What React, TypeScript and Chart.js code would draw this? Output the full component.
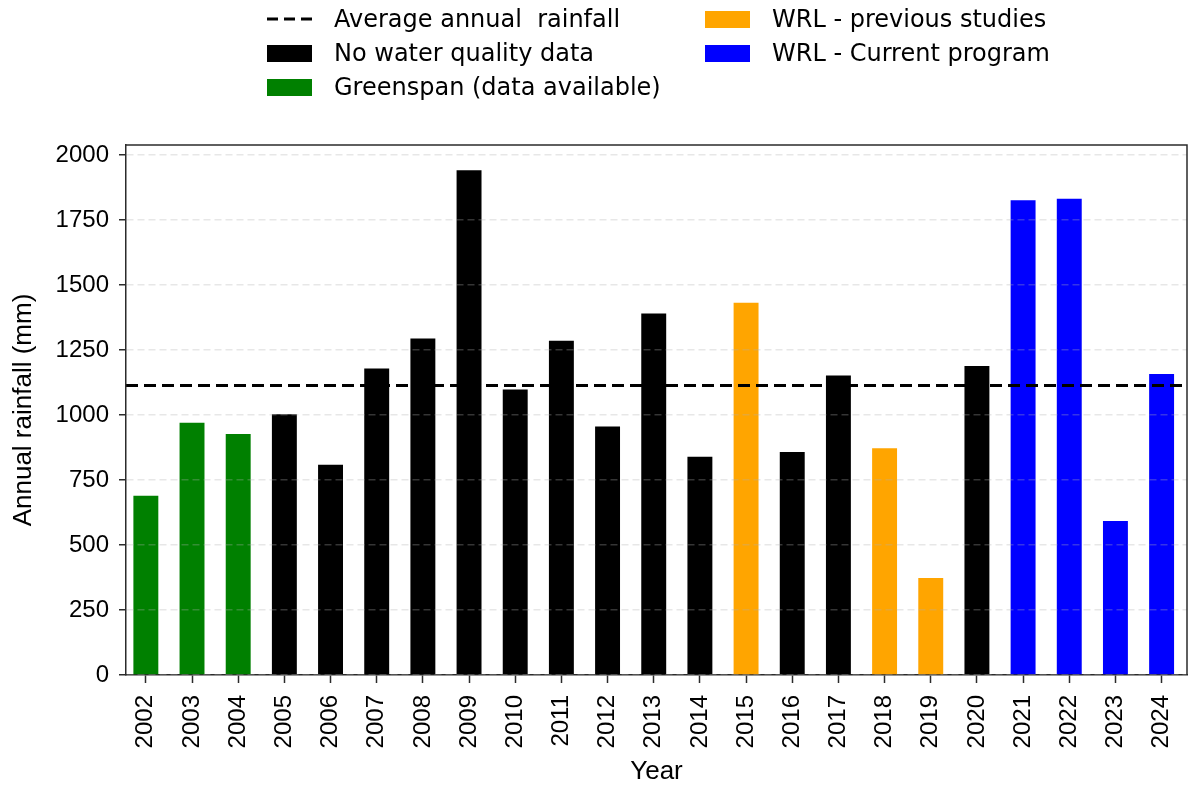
import React, { useEffect, useRef } from "react";
import { Chart, registerables } from "chart.js";

Chart.register(...registerables);

const years = ["2002","2003","2004","2005","2006","2007","2008","2009","2010","2011","2012","2013","2014","2015","2016","2017","2018","2019","2020","2021","2022","2023","2024"];
const rainfall = [690, 970, 927, 1003, 809, 1179, 1295, 1942, 1098, 1286, 956, 1391, 840, 1432, 858, 1152, 872, 373, 1189, 1826, 1832, 592, 1158];
const groups = ["green","green","green","black","black","black","black","black","black","black","black","black","black","orange","black","black","orange","orange","black","blue","blue","blue","blue"];
const averageRainfall = 1114;
const yTicks = [0, 250, 500, 750, 1000, 1250, 1500, 1750, 2000];

const groupColors: Record<string, string> = {
  green: "#008000",
  black: "#000000",
  orange: "#FFA500",
  blue: "#0000FF",
};

const legendItems = [
  { label: "Average annual  rainfall", kind: "line", color: "#000", col: 0, row: 0 },
  { label: "No water quality data", kind: "patch", color: groupColors.black, col: 0, row: 1 },
  { label: "Greenspan (data available)", kind: "patch", color: groupColors.green, col: 0, row: 2 },
  { label: "WRL - previous studies", kind: "patch", color: groupColors.orange, col: 1, row: 0 },
  { label: "WRL - Current program", kind: "patch", color: groupColors.blue, col: 1, row: 1 },
];

const framePlugin = {
  id: "frameAndAverage",
  afterDatasetsDraw(chart: any) {
    const { ctx, chartArea, scales } = chart;
    const y = scales.y.getPixelForValue(averageRainfall);
    ctx.save();
    ctx.strokeStyle = "#000";
    ctx.lineWidth = 3;
    ctx.setLineDash([12, 6]);
    ctx.beginPath();
    ctx.moveTo(chartArea.left, y);
    ctx.lineTo(chartArea.right, y);
    ctx.stroke();
    ctx.restore();
  },
  afterDraw(chart: any) {
    const { ctx, chartArea } = chart;
    ctx.save();
    ctx.strokeStyle = "#2b2b2b";
    ctx.lineWidth = 1.5;
    ctx.beginPath();
    ctx.moveTo(chartArea.left, chartArea.top);
    ctx.lineTo(chartArea.right, chartArea.top);
    ctx.lineTo(chartArea.right, chartArea.bottom);
    ctx.stroke();
    ctx.restore();
  },
};

export default function App() {
  const canvasRef = useRef<HTMLCanvasElement | null>(null);

  useEffect(() => {
    if (!canvasRef.current) return;
    const chart = new Chart(canvasRef.current, {
      type: "bar",
      data: {
        datasets: [
          {
            label: "Annual rainfall",
            data: rainfall.map((v, i) => ({ x: i, y: v })),
            backgroundColor: groups.map((g) => groupColors[g]),
            borderWidth: 0,
            barPercentage: 0.54,
            categoryPercentage: 1,
          },
        ],
      },
      options: {
        responsive: false,
        animation: false,
        devicePixelRatio: 1,
        layout: { padding: { top: 145, right: 2, left: 0, bottom: 0 } },
        plugins: { legend: { display: false }, tooltip: { enabled: false } },
        scales: {
          x: {
            type: "linear",
            offset: false,
            min: -0.43,
            max: 22.55,
            afterFit: (scale: any) => {
              scale.height = 112;
              scale.paddingLeft = 0;
              scale.paddingRight = 0;
            },
            afterBuildTicks: (scale: any) => { scale.ticks = years.map((_, i) => ({ value: i })); },
            ticks: {
              callback: (v: any) => years[Math.round(Number(v))] ?? "",
              minRotation: 90,
              maxRotation: 90,
              autoSkip: false,
              color: "#000",
              padding: 12,
              font: { family: "'Liberation Sans', Arial, sans-serif", size: 24 },
            },
            grid: {
              offset: false,
              drawOnChartArea: false,
              drawTicks: true,
              tickLength: 8,
              tickColor: "#2b2b2b",
              tickWidth: 1.5,
            },
            border: { display: true, color: "#2b2b2b", width: 1.5 },
            title: {
              display: true,
              text: "Year",
              color: "#000",
              padding: { top: 0, bottom: 0 },
              font: { family: "'Liberation Sans', Arial, sans-serif", size: 26 },
            },
          },
          y: {
            min: 0,
            max: 2039,
            afterFit: (scale: any) => {
              scale.width = 126;
              scale.paddingTop = 0;
              scale.paddingBottom = 0;
            },
            afterBuildTicks: (scale: any) => { scale.ticks = yTicks.map((v) => ({ value: v })); },
            ticks: {
              callback: (v: any) => String(v),
              color: "#000",
              padding: 10,
              font: { family: "'Liberation Sans', Arial, sans-serif", size: 24 },
            },
            grid: {
              color: "rgba(176,176,176,0.3)",
              lineWidth: 1.5,
              drawTicks: true,
              tickLength: 7,
              tickColor: "#2b2b2b",
              tickWidth: 1.5,
              z: 1,
            },
            border: { display: true, color: "#2b2b2b", width: 1.5, dash: [7, 4], z: 1 },
            title: {
              display: true,
              text: "Annual rainfall (mm)",
              color: "#000",
              padding: { top: 8, bottom: 0 },
              font: { family: "'Liberation Sans', Arial, sans-serif", size: 26 },
            },
          },
        },
      },
      plugins: [framePlugin],
    } as any);
    return () => chart.destroy();
  }, []);

  const colX = [267, 705];
  const rowY = [19, 53, 87];

  return (
    <div style={{ position: "absolute", left: 0, top: 0, width: 1189, height: 787, background: "#fff" }}>
      <canvas ref={canvasRef} width={1189} height={787} style={{ position: "absolute", left: 0, top: 0, width: 1189, height: 787 }} />
      {legendItems.map((it) => (
        <div
          key={it.label}
          style={{
            position: "absolute",
            left: colX[it.col],
            top: rowY[it.row] - 15,
            height: 30,
            display: "flex",
            alignItems: "center",
            fontFamily: "'DejaVu Sans', sans-serif",
            fontSize: 24,
            color: "#000",
            whiteSpace: "pre",
          }}
        >
          {it.kind === "line" ? (
            <svg width={45} height={18} style={{ display: "block" }}>
              <line x1={0} y1={9} x2={45} y2={9} stroke="#000" strokeWidth={3} strokeDasharray="11,6" />
            </svg>
          ) : (
            <div style={{ width: 45, height: 17, background: it.color }} />
          )}
          <span style={{ marginLeft: 22 }}>{it.label}</span>
        </div>
      ))}
    </div>
  );
}
